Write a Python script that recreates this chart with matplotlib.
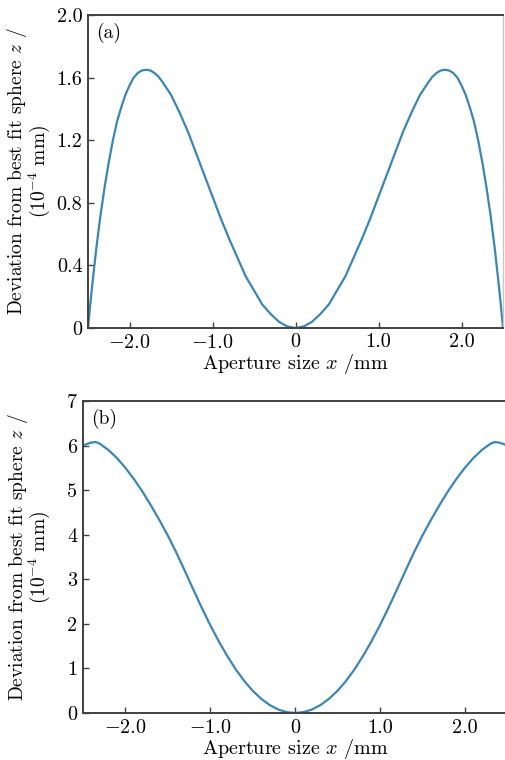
import matplotlib
matplotlib.use('Agg')
import matplotlib.pyplot as plt

# === dados (z em 10^-4 mm, x em mm) ===
x_a = [-2.5, -2.475, -2.45, -2.4, -2.35, -2.3, -2.25, -2.2, -2.15, -2.1, -2.05, -2.0,
       -1.95, -1.9, -1.85, -1.8, -1.75, -1.7, -1.65, -1.6, -1.5, -1.4, -1.3,
       -1.2, -1.1, -1.0, -0.9, -0.8, -0.7, -0.6, -0.5, -0.4, -0.3, -0.2, -0.1, 0.0,
       0.1, 0.2, 0.3, 0.4, 0.5, 0.6, 0.7, 0.8, 0.9, 1.0, 1.1, 1.2, 1.3, 1.4,
       1.5, 1.6, 1.65, 1.7, 1.75, 1.8, 1.85, 1.9, 1.95, 2.0, 2.05, 2.1, 2.15,
       2.2, 2.25, 2.3, 2.35, 2.4, 2.45, 2.475, 2.5]
z_a = [0.0, 0.14, 0.27, 0.51, 0.72, 0.90, 1.06, 1.20, 1.32, 1.41, 1.49, 1.55,
       1.60, 1.63, 1.646, 1.65, 1.646, 1.63, 1.606, 1.57, 1.49, 1.38, 1.26,
       1.12, 0.98, 0.84, 0.70, 0.57, 0.45, 0.33, 0.24, 0.15, 0.09, 0.04, 0.01, 0.0,
       0.01, 0.04, 0.09, 0.15, 0.24, 0.33, 0.45, 0.57, 0.70, 0.84, 0.98, 1.12, 1.26, 1.38,
       1.49, 1.57, 1.606, 1.63, 1.646, 1.65, 1.646, 1.63, 1.60, 1.55, 1.49, 1.41, 1.32,
       1.20, 1.06, 0.90, 0.72, 0.51, 0.27, 0.14, 0.0]

x_b = [-2.5, -2.45, -2.4, -2.35, -2.3, -2.2, -2.1, -2.0, -1.9, -1.8, -1.7, -1.6, -1.5, -1.4,
       -1.3, -1.2, -1.1, -1.0, -0.9, -0.8, -0.7, -0.6, -0.5, -0.4, -0.3, -0.2, -0.1, 0.0,
       0.1, 0.2, 0.3, 0.4, 0.5, 0.6, 0.7, 0.8, 0.9, 1.0, 1.1, 1.2, 1.3, 1.4,
       1.5, 1.6, 1.7, 1.8, 1.9, 2.0, 2.1, 2.2, 2.3, 2.35, 2.4, 2.45, 2.5]
z_b = [6.00, 6.04, 6.07, 6.08, 6.04, 5.90, 5.72, 5.50, 5.25, 4.97, 4.66, 4.33, 3.98, 3.60,
       3.19, 2.77, 2.36, 1.97, 1.61, 1.28, 0.98, 0.72, 0.50, 0.32, 0.18, 0.08, 0.02, 0.0,
       0.02, 0.08, 0.18, 0.32, 0.50, 0.72, 0.98, 1.28, 1.61, 1.97, 2.36, 2.77, 3.19, 3.60,
       3.98, 4.33, 4.66, 4.97, 5.25, 5.50, 5.72, 5.90, 6.04, 6.08, 6.07, 6.04, 6.00]

x_ticks = [-2.0, -1.0, 0.0, 1.0, 2.0]
x_ticklabels = [r'$-2.0$', r'$-1.0$', '0', '1.0', '2.0']
y_ticks_a = [0, 0.4, 0.8, 1.2, 1.6, 2.0]
y_ticklabels_a = ['0', '0.4', '0.8', '1.2', '1.6', '2.0']
y_ticks_b = [0, 1, 2, 3, 4, 5, 6, 7]
y_ticklabels_b = ['0', '1', '2', '3', '4', '5', '6', '7']

COR_LINHA = '#3b86b4'
ROTULO_X = r'Aperture size $x$ /mm'
ROTULO_Y = 'Deviation from best fit sphere $z$ /\n(10$^{-4}$ mm)'

plt.rcParams['font.family'] = 'cmr10'
plt.rcParams['mathtext.fontset'] = 'cm'
plt.rcParams['axes.unicode_minus'] = False

fig = plt.figure(figsize=(5.05, 7.6), dpi=100)
ax_a = fig.add_axes([0.1743, 0.5684, 0.8218, 0.4118])
ax_b = fig.add_axes([0.1644, 0.0618, 0.8400, 0.4105])


def configura(ax, xs, zs, yt, ytl, ymax, painel):
    ax.plot(xs, zs, color=COR_LINHA, lw=1.6)
    ax.set_xlim(-2.5, 2.5)
    ax.set_ylim(0, ymax)
    ax.set_xticks(x_ticks)
    ax.set_xticklabels(x_ticklabels)
    ax.set_yticks(yt)
    ax.set_yticklabels(ytl)
    ax.tick_params(direction='in', length=4, width=1.0, color='#444444',
                   labelsize=14.5, pad=4, top=False, right=False)
    for lado in ['left', 'bottom', 'top']:
        ax.spines[lado].set_color('#404040')
        ax.spines[lado].set_linewidth(1.4)
    ax.spines['right'].set_color('#c8c8c8')
    ax.spines['right'].set_linewidth(1.0)
    ax.set_xlabel(ROTULO_X, fontsize=14.5, labelpad=0)
    ax.set_ylabel(ROTULO_Y, fontsize=14, linespacing=0.85)
    ax.text(0.02, 0.975, painel, transform=ax.transAxes, fontsize=14,
            ha='left', va='top')


configura(ax_a, x_a, z_a, y_ticks_a, y_ticklabels_a, 2.0, '(a)')
configura(ax_b, x_b, z_b, y_ticks_b, y_ticklabels_b, 7, '(b)')

ax_a.yaxis.set_label_coords(-0.087, 0.5)
ax_b.yaxis.set_label_coords(-0.072, 0.5)

fig.savefig('out.png', dpi=100)
